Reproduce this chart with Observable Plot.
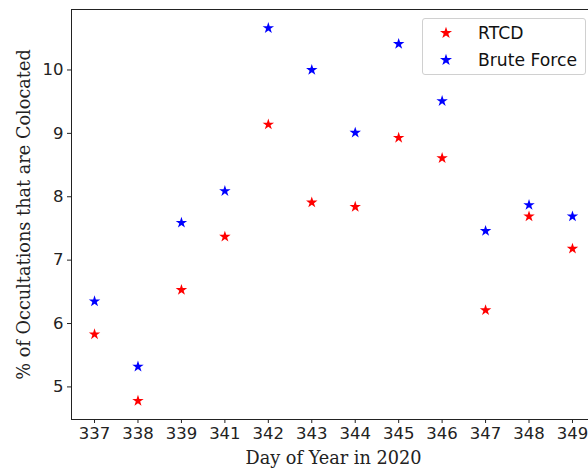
<!DOCTYPE html>
<html>
<head>
<meta charset="utf-8">
<script src="https://cdn.jsdelivr.net/npm/d3@7"></script>
<script src="https://cdn.jsdelivr.net/npm/@observablehq/plot@0.6"></script>
<style>
  html, body { margin: 0; padding: 0; background: #fff; overflow: hidden; width: 588px; height: 468px; }
  #wrap { position: relative; width: 588px; height: 468px; overflow: hidden; }
  #wrap > svg { max-width: none !important; position: absolute; left: 0; top: 0; }
  #legend { position: absolute; left: 422px; top: 18px; width: 164px; height: 57px; border: 1px solid #d0d0d0; border-radius: 3px; background: rgba(255,255,255,0.8); box-sizing: border-box; font-family: "DejaVu Sans", sans-serif; font-size: 17.2px; color: #111; }
  .row { position: absolute; left: 0; height: 20px; }
  .row svg { position: absolute; left: 16px; top: 3px; }
  .row span { position: absolute; left: 55px; white-space: nowrap; line-height: 20px; }
</style>
</head>
<body>
<div id="wrap"></div>
<script>
const days = ["337","338","339","341","342","343","344","345","346","347","348","349"];
const rtcd = [5.83, 4.78, 6.53, 7.37, 9.14, 7.91, 7.84, 8.93, 8.61, 6.21, 7.69, 7.18];
const brute = [6.35, 5.32, 7.59, 8.09, 10.66, 10.00, 9.01, 10.41, 9.51, 7.46, 7.87, 7.69];
const seriesNames = ["RTCD", "Brute Force"];
const seriesColors = ["#ff0000", "#0000ff"];
const yTicks = [5, 6, 7, 8, 9, 10];

const rows = [];
days.forEach((d, i) => {
  rows.push({day: d, value: rtcd[i], series: seriesNames[0]});
  rows.push({day: d, value: brute[i], series: seriesNames[1]});
});

const allVals = rtcd.concat(brute);
const lo = d3.min(allVals), hi = d3.max(allVals), pad = (hi - lo) * 0.05;

const chart = Plot.plot({
  width: 600,
  height: 468,
  marginLeft: 71,
  marginRight: 5,
  marginTop: 9,
  marginBottom: 49,
  style: {background: "#fff", color: "#222", maxWidth: "none"},
  x: {type: "point", domain: days, padding: 0.53, round: false},
  y: {domain: [lo - pad, hi + pad]},
  color: {domain: seriesNames, range: seriesColors},
  marks: [
    Plot.frame({stroke: "#222", strokeWidth: 1}),
    Plot.axisX({tickSize: 4, tickPadding: 4, fontSize: 16.5, fontFamily: "DejaVu Sans", stroke: "#222",
      label: "Day of Year in 2020", labelAnchor: "center", labelOffset: 44, labelArrow: "none"}),
    Plot.axisY({ticks: yTicks, tickFormat: d => String(d), tickSize: 4, tickPadding: 4, fontSize: 16.5, fontFamily: "DejaVu Sans", stroke: "#222",
      label: "% of Occultations that are Colocated", labelAnchor: "center", labelOffset: 54, labelArrow: "none"}),
    Plot.dot(rows, {x: "day", y: "value", fill: "series", symbol: "star", r: 3.6, stroke: "none"})
  ]
});

d3.select(chart).selectAll("[aria-label='x-axis label'] text, [aria-label='y-axis label'] text")
  .style("font-family", "'DejaVu Serif', serif").style("font-size", "17.7px").style("fill", "#222");

const wrap = document.getElementById("wrap");
wrap.appendChild(chart);

const legend = document.createElement("div");
legend.id = "legend";
const star = d3.symbol(d3.symbolStar, 45)();
seriesNames.forEach((name, i) => {
  const row = document.createElement("div");
  row.className = "row";
  row.style.top = (4 + i * 27) + "px";
  row.innerHTML = `<svg width="14" height="14" viewBox="-7 -7 14 14"><path d="${star}" fill="${seriesColors[i]}"/></svg><span>${name}</span>`;
  legend.appendChild(row);
});
wrap.appendChild(legend);
</script>
</body>
</html>
